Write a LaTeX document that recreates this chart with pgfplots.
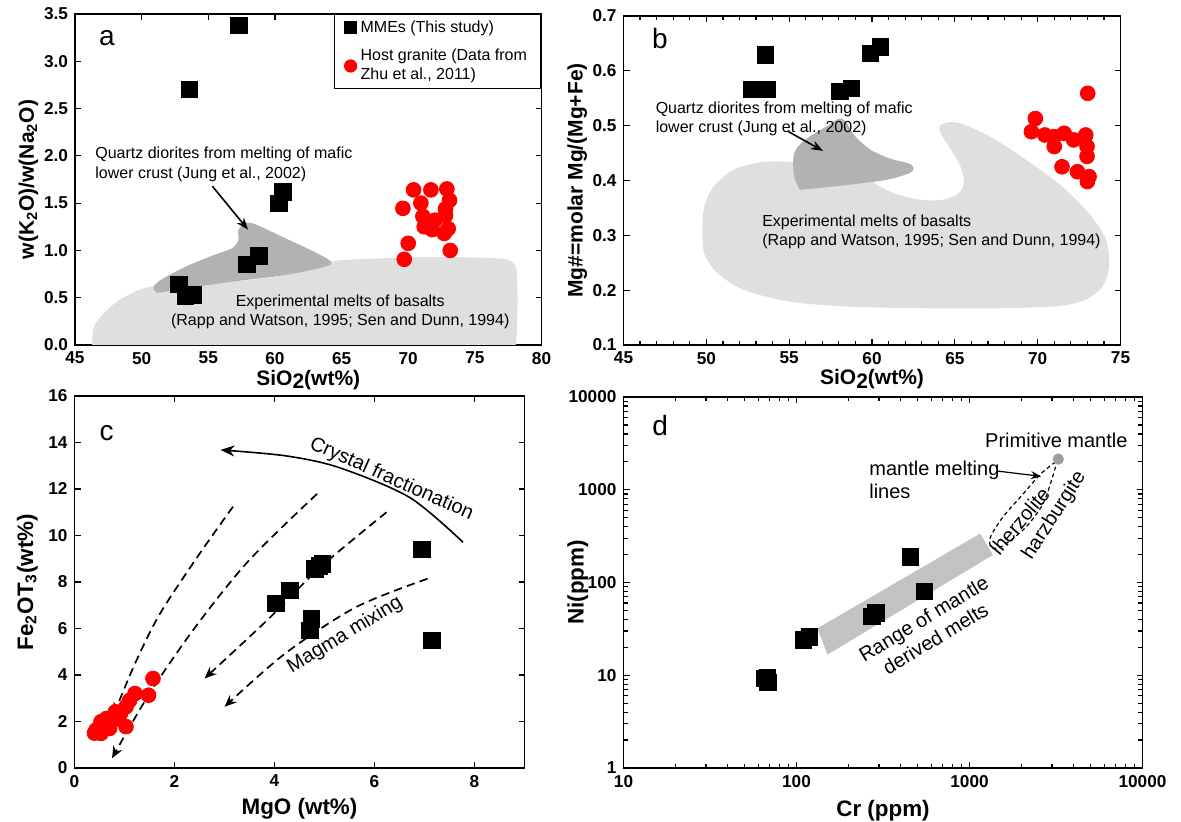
\documentclass[border=0pt]{standalone}
\usepackage{pgfplots}
\pgfplotsset{compat=1.18}
\usepackage{fontspec}
\setmainfont{Liberation Sans}
\usetikzlibrary{arrows.meta}
\definecolor{lightg}{gray}{0.875}
\definecolor{darkg}{gray}{0.70}
\definecolor{bandg}{gray}{0.76}
\definecolor{pmg}{gray}{0.62}
\tikzset{
  annA/.style={font=\fontsize{8}{9.6}\selectfont},
  annD/.style={font=\fontsize{10}{11.5}\selectfont},
  dasharrow/.style={line width=0.85pt, dash pattern=on 4.2pt off 2.6pt, -{Stealth[length=6pt,width=5pt]}},
}
\pgfplotsset{
  panel/.style={
    scale only axis, clip=false,
    tick align=inside,
    axis line style={line width=0.9pt},
    major tick length=3pt, minor tick length=2.2pt,
    every tick/.style={black, line width=0.6pt},
    ticklabel style={font=\bfseries\fontsize{8.6}{9}\selectfont},
    /pgf/number format/assume math mode=true,
    label style={font=\bfseries\fontsize{10.5}{11}\selectfont},
  },
  mme/.style={only marks, mark=square*, mark size=4.1pt, mark options={fill=black, draw=black}},
  host/.style={only marks, mark=*, mark size=3.7pt, mark options={fill=red, draw=red}},
}
\begin{document}
\begin{tikzpicture}
\useasboundingbox (0,0) rectangle (590.5pt,411pt);
% ---------------- panel a ----------------
\begin{axis}[panel, at={(37.5pt,238.5pt)}, anchor=south west, width=233.25pt, height=165.5pt,
  xmin=45, xmax=80, ymin=0, ymax=3.5,
  xtick={45,50,55,60,65,70,75,80}, ytick={0,0.5,1,1.5,2,2.5,3,3.5},
  yticklabel style={/pgf/number format/.cd, fixed, fixed zerofill, precision=1},
  xlabel={SiO\raisebox{-0.3ex}{2}(wt\%)},
  ylabel={w(K\textsubscript{2}O)/w(Na\textsubscript{2}O)},
  xlabel style={at={(axis description cs:0.5,-0.105)}, anchor=center},
  ylabel style={at={(axis description cs:-0.10,0.5)}, anchor=center},
  legend style={at={(rel axis cs:1,1)}, anchor=north east, draw=black, line width=0.6pt,
    font=\fontsize{8}{9.5}\selectfont, cells={anchor=west, align=left},
    inner xsep=5pt, inner ysep=1pt, row sep=3pt},
  legend image post style={mark size=3pt},
]
\addplot[fill=lightg, draw=none, smooth, forget plot] coordinates {
 (46.28,0) (46.45,0.2) (47.4,0.37) (48.75,0.51) (50.9,0.62) (56.8,0.67) (60.8,0.74)
 (64.2,0.88) (66.1,0.905) (71.5,0.93) (76.8,0.915) (77.9,0.865) (78.15,0.75) (78.2,0.4) (78.1,0)} -- cycle;
\addplot[fill=darkg, draw=none, smooth, forget plot] coordinates {
 (50.9,0.617) (51.42,0.687) (53.3,0.828) (55.44,0.952) (56.78,1.022) (57.26,1.11) (57.26,1.216)
 (57.84,1.293) (58.65,1.269) (60.79,1.128) (62.93,0.987) (64.21,0.881) (63.73,0.828) (60.79,0.74)
 (56.78,0.669) (52.76,0.589) (51.16,0.553) (50.9,0.617)} -- cycle;
\addplot[mme] coordinates {
 (57.3,3.38) (53.6,2.70) (60.6,1.62) (60.3,1.50) (58.8,0.94) (57.9,0.85) (52.8,0.64) (53.3,0.52) (53.9,0.53)};
\addlegendentry{MMEs (This study)}
\addplot[host] coordinates {
 (70.4,1.64) (71.7,1.64) (72.9,1.65) (69.6,1.445) (70.95,1.50) (73.1,1.53) (72.8,1.44)
 (71.1,1.36) (72.0,1.32) (72.8,1.37) (71.2,1.25) (71.8,1.22) (73.0,1.23) (72.7,1.18)
 (70.0,1.075) (73.15,1.00) (69.7,0.906)};
\addlegendentry{Host granite (Data from\\Zhu et al., 2011)}
\node[font=\fontsize{14}{14}\selectfont] at (axis cs:47.4,3.25) {a};
\node[annA, anchor=west, align=left] at (axis cs:46.0,1.91) {Quartz diorites from melting of mafic\\lower crust (Jung et al., 2002)};
\node[annA, align=center] at (axis cs:64.9,0.353) {Experimental melts of basalts\\(Rapp and Watson, 1995; Sen and Dunn, 1994)};
\addplot[line width=0.8pt, -{Stealth[length=6pt,width=4.5pt]}, forget plot] coordinates {(55.3,1.68) (57.98,1.22)};
\end{axis}
% ---------------- panel b ----------------
\begin{axis}[panel, at={(311.75pt,238.5pt)}, anchor=south west, width=248.5pt, height=164.5pt,
  xmin=45, xmax=75, ymin=0.1, ymax=0.7,
  xtick={45,50,55,60,65,70,75}, ytick={0.1,0.2,0.3,0.4,0.5,0.6,0.7},
  minor x tick num=4,
  yticklabel style={/pgf/number format/.cd, fixed, fixed zerofill, precision=1},
  xlabel={SiO\raisebox{-0.3ex}{2}(wt\%)},
  ylabel={Mg\#=molar Mg/(Mg+Fe)},
  xlabel style={at={(axis description cs:0.5,-0.105)}, anchor=center},
  ylabel style={at={(axis description cs:-0.093,0.5)}, anchor=center},
]
\addplot[fill=lightg, draw=none, smooth, forget plot] coordinates {
 (49.76,0.310) (49.87,0.352) (50.45,0.389) (51.61,0.419) (53.22,0.433) (55.19,0.434) (58.54,0.425)
 (60.15,0.395) (61.31,0.377) (62.69,0.366) (64.08,0.364) (65.12,0.374) (65.54,0.395) (65.35,0.425)
 (64.77,0.456) (64.2,0.483) (64.08,0.498) (64.54,0.506) (65.47,0.503) (67.31,0.477) (69.62,0.431)
 (71.47,0.389) (73.09,0.340) (74.13,0.292) (74.31,0.243) (73.9,0.206) (72.86,0.182) (71.24,0.171)
 (67.78,0.167) (63.16,0.167) (58.54,0.170) (55.07,0.179) (52.3,0.200) (50.68,0.231) (49.87,0.267) (49.76,0.310)} -- cycle;
\addplot[fill=darkg, draw=none, smooth, forget plot] coordinates {
 (55.65,0.383) (55.30,0.407) (55.26,0.443) (55.53,0.462) (56.23,0.480) (57.38,0.501) (58.03,0.513)
 (58.42,0.507) (59.0,0.480) (59.92,0.456) (61.08,0.440) (62.23,0.431) (62.51,0.422) (62.23,0.413)
 (60.85,0.401) (58.54,0.392) (56.69,0.386) (55.65,0.383)} -- cycle;
\addplot[mme] coordinates {
 (53.57,0.629) (52.76,0.566) (53.2,0.566) (53.68,0.566) (58.07,0.562) (58.77,0.568) (59.92,0.632) (60.5,0.644)};
\addplot[host] coordinates {
 (73.02,0.559) (69.86,0.513) (69.62,0.489) (70.43,0.483) (71.0,0.480) (71.6,0.486) (72.17,0.474)
 (72.9,0.483) (71.0,0.462) (72.98,0.462) (72.98,0.444) (71.47,0.425) (72.4,0.416) (73.1,0.407) (73.0,0.398)};
\node[font=\fontsize{14}{14}\selectfont] at (axis cs:47.2,0.659) {b};
\node[annA, anchor=west, align=left] at (axis cs:46.52,0.512) {Quartz diorites from melting of mafic\\lower crust (Jung et al., 2002)};
\node[annA, anchor=west, align=left] at (axis cs:52.95,0.306) {Experimental melts of basalts\\(Rapp and Watson, 1995; Sen and Dunn, 1994)};
\addplot[line width=0.8pt, -{Stealth[length=6pt,width=4.5pt]}, forget plot] coordinates {(54.96,0.489) (57.04,0.454)};
\end{axis}
% ---------------- panel c ----------------
\begin{axis}[panel, at={(37.25pt,27pt)}, anchor=south west, width=225pt, height=186pt,
  xmin=0, xmax=9, ymin=0, ymax=16,
  xtick={0,2,4,6,8}, ytick={0,2,4,6,8,10,12,14,16},
  xlabel={MgO (wt\%)},
  ylabel={Fe\textsubscript{2}OT\textsubscript{3}(wt\%)},
  label style={font=\bfseries\fontsize{11.2}{12}\selectfont},
  xlabel style={at={(axis description cs:0.5,-0.11)}, anchor=center},
  ylabel style={at={(axis description cs:-0.105,0.5)}, anchor=center},
]
\addplot[host] coordinates {
 (1.57,3.85) (1.48,3.13) (1.21,3.2) (1.03,2.63) (1.03,1.78) (0.82,2.42) (0.64,2.13) (0.53,1.99)
 (0.43,1.63) (0.53,1.49) (0.64,1.84) (0.78,2.06) (0.92,2.35) (0.40,1.5) (1.1,2.9) (0.7,1.7)};
\addplot[mme] coordinates {
 (6.95,9.40) (7.15,5.49) (4.96,8.78) (4.81,8.57) (4.9,8.7) (4.31,7.64) (4.03,7.07) (4.74,6.42) (4.71,5.92)};
\addplot[dasharrow, smooth] coordinates {(3.17,11.24) (2.50,9.21) (1.71,6.64) (1.21,4.49) (0.785,2.3)};
\addplot[dasharrow, smooth] coordinates {(4.85,11.79) (3.49,8.93) (2.42,6.07) (1.50,3.2) (0.75,0.42)};
\addplot[dasharrow, smooth] coordinates {(6.24,11.0) (4.92,8.64) (3.85,6.35) (2.60,3.85)};
\addplot[dasharrow, smooth] coordinates {(7.06,8.14) (5.63,6.92) (4.21,4.92) (3.0,2.63)};
\addplot[line width=0.8pt, smooth, -{Stealth[length=7pt,width=5.5pt]}] coordinates {(7.77,9.71) (6.70,11.64) (5.28,12.93) (4.21,13.43) (2.92,13.68)};
\node[font=\fontsize{14}{14}\selectfont] at (axis cs:0.64,14.4) {c};
\node[font=\fontsize{10}{11}\selectfont, rotate=-24] at (axis cs:6.34,12.42) {Crystal fractionation};
\node[font=\fontsize{10}{11}\selectfont, rotate=31] at (axis cs:5.41,5.71) {Magma mixing};
\end{axis}
% ---------------- panel d ----------------
\begin{axis}[panel, at={(311.75pt,27pt)}, anchor=south west, width=259.5pt, height=185.5pt,
  xmode=log, ymode=log,
  xmin=10, xmax=10000, ymin=1, ymax=10000,
  xtick={10,100,1000,10000}, xticklabels={10,100,1000,10000},
  ytick={1,10,100,1000,10000}, yticklabels={1,10,100,1000,10000},
  xlabel={Cr (ppm)},
  ylabel={Ni(ppm)},
  label style={font=\bfseries\fontsize{11.2}{12}\selectfont},
  xlabel style={at={(axis description cs:0.5,-0.115)}, anchor=center},
  ylabel style={at={(axis description cs:-0.088,0.5)}, anchor=center},
]
\addplot[fill=bandg, draw=none, forget plot] coordinates {(132,32) (1153,337) (1365,198) (151,16.7)} -- cycle;
\addplot[mme] coordinates {
 (455,188) (550,80) (287,47) (273,43) (119,26) (110,24) (68,9.5) (68.5,8.4) (65,9.2)};
\addplot[only marks, mark=*, mark size=2.6pt, mark options={fill=pmg, draw=pmg}] coordinates {(3260,2140)};
\addplot[line width=0.6pt, dash pattern=on 2pt off 1.5pt, smooth] coordinates {
 (3147,1997) (2590,1490) (2004,866) (1553,503) (1318,305) (1345,237) (1553,248) (2109,392)
 (2655,703) (3020,1371) (3177,1916)};
\addplot[line width=0.6pt, -{Stealth[length=5pt,width=4pt]}] coordinates {(1439,1593) (2590,1394)};
\node[font=\fontsize{14}{14}\selectfont] at (axis cs:16.3,4900) {d};
\node[annD] at (axis cs:3177,3435) {Primitive mantle};
\node[annD, anchor=west, align=left] at (axis cs:240,1270) {mantle melting\\lines};
\node[annD, rotate=50] at (axis cs:1954,462) {lherzolite};
\node[annD, rotate=57] at (axis cs:3097,525) {harzburgite};
\node[annD, rotate=31, align=center] at (axis cs:587,31.9) {Range of mantle\\derived melts};
\end{axis}
\end{tikzpicture}
\end{document}
